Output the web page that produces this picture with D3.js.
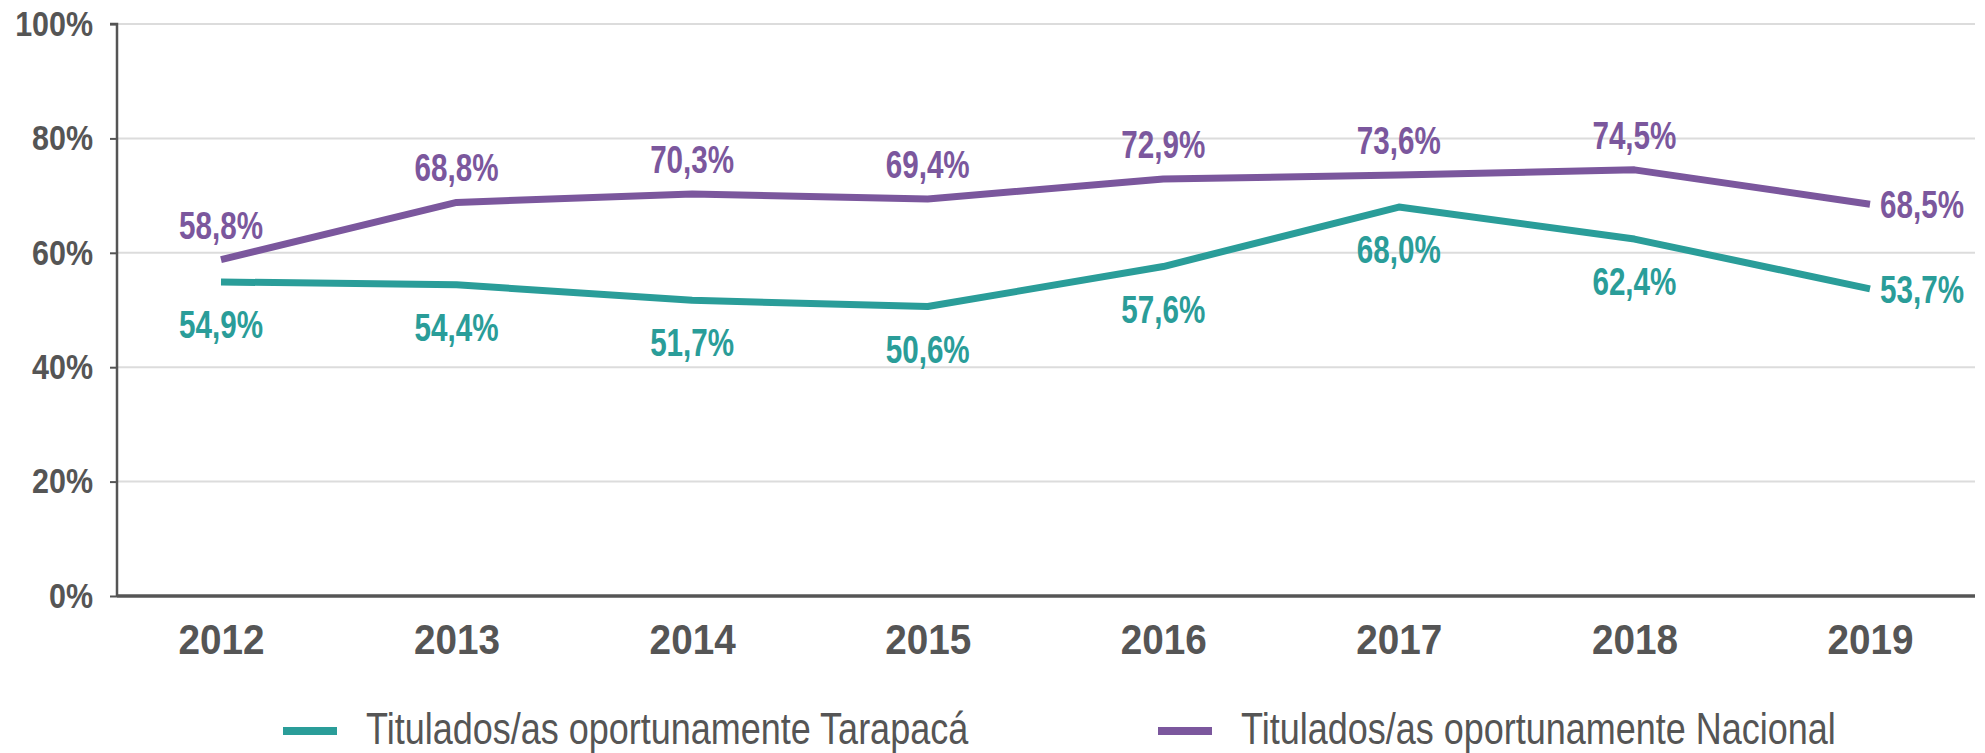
<!DOCTYPE html>
<html>
<head>
<meta charset="utf-8">
<script src="https://cdn.jsdelivr.net/npm/d3@7"></script>
<style>
  body { margin: 0; background: #fff; }
  text { font-family: "Liberation Sans", "Arial", sans-serif; fill: #555; }
</style>
</head>
<body>
<div id="chart"></div>
<script>

// data
var years = ["2012","2013","2014","2015","2016","2017","2018","2019"]
var tarapaca = [54.9, 54.4, 51.7, 50.6, 57.6, 68.0, 62.4, 53.7]
var nacional = [58.8, 68.8, 70.3, 69.4, 72.9, 73.6, 74.5, 68.5]
var yTicks = [0, 20, 40, 60, 80, 100]
var seriesNames = ["Titulados/as oportunamente Tarapacá", "Titulados/as oportunamente Nacional"]
var seriesColors = ["#2a9d99", "#7b579d"]

// set the dimensions and margins of the graph
var margin = {top: 24, right: 10, bottom: 157, left: 117},
  width = 1985 - margin.left - margin.right,
  height = 753 - margin.top - margin.bottom;

var svg = d3.select("#chart")
.append("svg")
  .attr("width", 1985)
  .attr("height", 753)
.append("g")
  .attr("transform", "translate(" + margin.left + "," + margin.top + ")");

// the reference font is condensed: squeeze the text horizontally around its anchor
function condense(sel, k) {
  sel.each(function() {
    var t = d3.select(this);
    var tx = +t.attr("x") || 0, ty = +t.attr("y") || 0;
    t.attr("x", 0).attr("y", 0)
      .attr("transform", "translate(" + tx + "," + ty + ") scale(" + k + ",1)");
  });
}

var x = d3.scalePoint()
  .domain(years)
  .range([104, 1753]);

var y = d3.scaleLinear()
  .domain([0, 100])
  .range([height, 0]);

// gridlines
svg.append("g")
  .selectAll("line")
  .data(yTicks.filter(d => d > 0))
  .enter()
  .append("line")
    .attr("x1", 0)
    .attr("x2", 1858)
    .attr("y1", d => y(d))
    .attr("y2", d => y(d))
    .style("stroke", "#dcdcdc")
    .style("stroke-width", 2);

// y axis
var yAxis = svg.append("g")
  .call(d3.axisLeft(y).tickValues(yTicks).tickFormat(d => d + "%").tickSize(7).tickPadding(17));
yAxis.select(".domain").attr("d", "M-7,0H0V" + height).style("stroke", "#555").style("stroke-width", 2.5);
yAxis.selectAll(".tick line").style("stroke", "#555").style("stroke-width", 2);
yAxis.selectAll(".tick text")
  .style("font-size", "35px")
  .style("font-weight", "bold")
  .style("fill", "#555")
  .call(condense, 0.87);

// x axis
var xAxis = svg.append("g")
  .attr("transform", "translate(0," + height + ")")
  .call(d3.axisBottom(x).tickSize(0).tickPadding(27));
xAxis.select(".domain").attr("d", "M0,0H1858").style("stroke", "#555").style("stroke-width", 3.5);
xAxis.selectAll(".tick text")
  .attr("dy", "0.71em")
  .style("font-size", "43px")
  .style("font-weight", "bold")
  .style("fill", "#555")
  .call(condense, 0.9);

// lines
var line = d3.line()
  .x((d, i) => x(years[i]))
  .y(d => y(d));

var series = [tarapaca, nacional];

svg.selectAll(".serie")
  .data(series)
  .enter()
  .append("path")
    .attr("class", "serie")
    .attr("d", d => line(d))
    .style("fill", "none")
    .style("stroke", (d, i) => seriesColors[i])
    .style("stroke-width", 7)
    .style("stroke-linejoin", "round");

// value labels
var fmt = v => v.toFixed(1).replace(".", ",") + "%";

series.forEach(function(values, s) {
  svg.append("g")
    .selectAll("text")
    .data(values)
    .enter()
    .append("text")
      .attr("x", (d, i) => i == years.length - 1 ? x(years[i]) + 10 : x(years[i]))
      .attr("y", function(d, i) {
        if (i == years.length - 1) return y(d) + 14;
        return s == 0 ? y(d) + 56 : y(d) - 21;
      })
      .style("text-anchor", (d, i) => i == years.length - 1 ? "start" : "middle")
      .style("font-size", "39px")
      .style("font-weight", "bold")
      .style("fill", seriesColors[s])
      .text(d => fmt(d))
      .call(condense, 0.76);
});

// legend
var legendX = [283, 1158];
var legend = d3.select("svg").append("g");

legend.selectAll("rect")
  .data(seriesNames)
  .enter()
  .append("rect")
    .attr("x", (d, i) => legendX[i])
    .attr("y", 727)
    .attr("width", 54)
    .attr("height", 8)
    .style("fill", (d, i) => seriesColors[i]);

legend.selectAll("text")
  .data(seriesNames)
  .enter()
  .append("text")
    .attr("x", (d, i) => legendX[i] + 83)
    .attr("y", 744)
    .style("font-size", "45px")
    .style("fill", "#555")
    .text(d => d)
    .call(condense, 0.8);

</script>
</body>
</html>
